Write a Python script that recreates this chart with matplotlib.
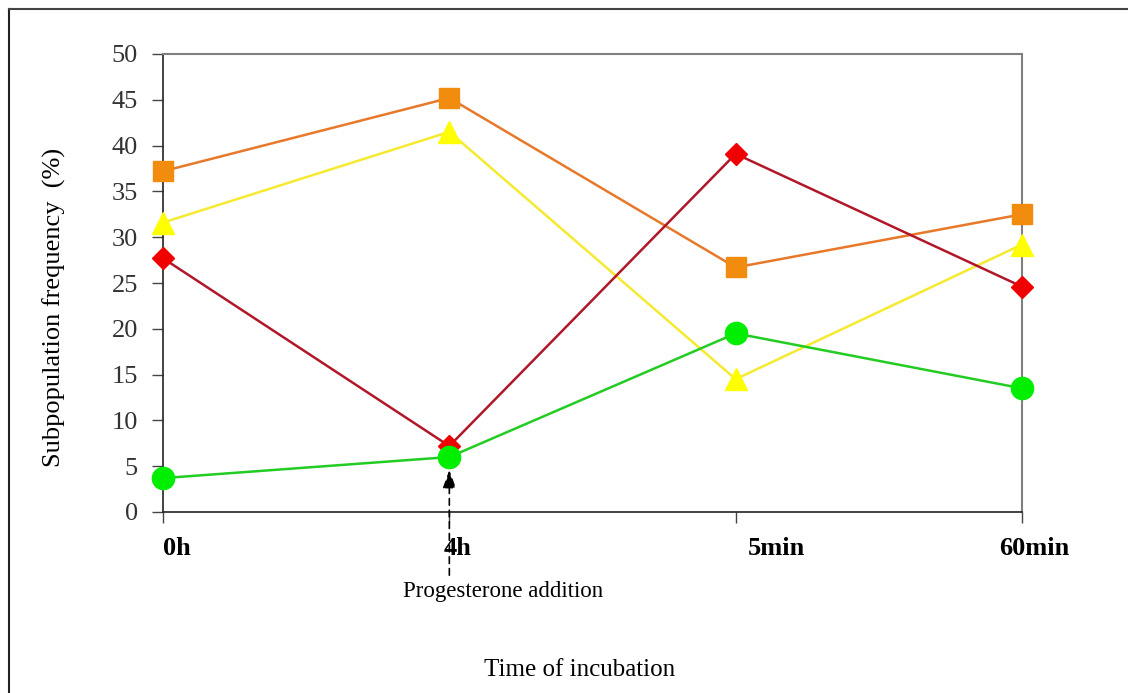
import matplotlib
matplotlib.use("Agg")
import matplotlib.pyplot as plt
from matplotlib.lines import Line2D

categories = ["0h", "4h", "5min", "60min"]
orange_sq = [37.2, 45.2, 26.7, 32.5]
yellow_tri = [31.6, 41.5, 14.5, 29.2]
red_dia = [27.7, 7.2, 39.1, 24.6]
green_circ = [3.7, 6.0, 19.5, 13.5]
yticks = [0, 5, 10, 15, 20, 25, 30, 35, 40, 45, 50]

plt.rcParams['font.family'] = ['Liberation Serif', 'DejaVu Serif']

fig = plt.figure(figsize=(11.28, 6.93), dpi=100)
ax = fig.add_axes([163/1128, 1-512/693, (1022-163)/1128, (512-54)/693])

x = list(range(len(categories)))
ax.plot(x, orange_sq, color='#e8782a', lw=1.8, marker='s', ms=15,
        mfc='#f28c0f', mec='#f28c0f', zorder=3, clip_on=False)
ax.plot(x, yellow_tri, color='#f5ea30', lw=1.8, marker='^', ms=16,
        mfc='#ffff00', mec='#ffff00', zorder=3, clip_on=False)
ax.plot(x, red_dia, color='#b0182a', lw=1.8, marker='D', ms=11,
        mfc='#f00000', mec='#f00000', zorder=3, clip_on=False)
ax.plot(x, green_circ, color='#22cc22', lw=1.8, marker='o', ms=16,
        mfc='#00ee00', mec='#00ee00', zorder=4, clip_on=False)

ax.set_xlim(0, 3)
ax.set_ylim(0, 50)
ax.set_yticks(yticks)
ax.set_yticklabels([str(v) for v in yticks], fontsize=19, color='#333333')
ax.set_xticks(x)
ax.set_xticklabels([])
ax.tick_params(axis='y', direction='out', length=8, width=1, color='#444444', pad=10)
ax.tick_params(axis='x', direction='out', length=8, width=1, color='#444444')

for s in ['top', 'right']:
    ax.spines[s].set_color('#808080')
    ax.spines[s].set_linewidth(1.5)
for s in ['left', 'bottom']:
    ax.spines[s].set_color('#222222')
    ax.spines[s].set_linewidth(1.2)

label_dx = [10, 6, 29.5, 8.5]
for xi, lab, dx in zip(x, categories, label_dx):
    ax.annotate(lab, xy=(xi, 0), xycoords='data', xytext=(dx, -18),
                textcoords='offset points', ha='center', va='top',
                fontsize=19, fontweight='bold', family=['Liberation Serif'],
                annotation_clip=False)

# progesterone arrow
ax.annotate('', xy=(1, 4.9), xycoords='data', xytext=(1, -7.2),
            textcoords='data',
            arrowprops=dict(arrowstyle='-|>,head_length=1.1,head_width=0.4',
                            linestyle=(0, (4, 3)), color='black', lw=1.2),
            annotation_clip=False)
fig.text(503/1128, 1-592/693, 'Progesterone addition', ha='center', va='center',
         fontsize=16.5)

fig.text(54/1128, 1-307/693, 'Subpopulation frequency  (%)', rotation=90,
         ha='center', va='center', fontsize=19)
fig.text(580/1128, 1-670/693, 'Time of incubation', ha='center', va='center',
         fontsize=18)

# outer border (left and top)
fig.add_artist(Line2D([9/1128, 9/1128], [0, 1-9/693], transform=fig.transFigure,
                      color='#222222', lw=1.5))
fig.add_artist(Line2D([9/1128, 1], [1-9/693, 1-9/693], transform=fig.transFigure,
                      color='#444444', lw=1.5))

fig.savefig('out.png', dpi=100)
